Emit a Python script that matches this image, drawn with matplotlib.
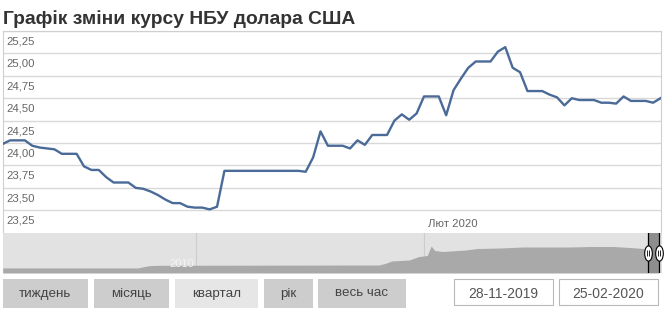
import numpy as np
import pandas as pd
import matplotlib
matplotlib.use("Agg")
import matplotlib.pyplot as plt
import matplotlib.dates as mdates
from matplotlib.patches import Rectangle
from matplotlib.path import Path
from matplotlib.transforms import Affine2D, offset_copy

plt.rcParams['font.family'] = ['Liberation Sans', 'DejaVu Sans']

# ---------------- data ----------------
title = "Графік зміни курсу НБУ долара США"
start_date = "2019-11-28"
end_date = "2020-02-25"
rates = [23.99, 24.03, 24.03, 24.03, 23.97, 23.95, 23.94, 23.93, 23.88, 23.88,
         23.88, 23.74, 23.70, 23.70, 23.62, 23.56, 23.56, 23.56, 23.50, 23.49,
         23.46, 23.42, 23.37, 23.33, 23.33, 23.29, 23.28, 23.28, 23.26, 23.29,
         23.69, 23.69, 23.69, 23.69, 23.69, 23.69, 23.69, 23.69, 23.69, 23.69,
         23.69, 23.68, 23.84, 24.13, 23.97, 23.97, 23.97, 23.94, 24.03, 23.98,
         24.09, 24.09, 24.09, 24.25, 24.32, 24.26, 24.33, 24.52, 24.52, 24.52,
         24.31, 24.59, 24.72, 24.84, 24.91, 24.91, 24.91, 25.02, 25.07, 24.84,
         24.79, 24.58, 24.58, 24.58, 24.54, 24.51, 24.42, 24.50, 24.48, 24.48,
         24.48, 24.45, 24.45, 24.44, 24.52, 24.47, 24.47, 24.47, 24.45, 24.50]
y_ticks = [23.25, 23.50, 23.75, 24.00, 24.25, 24.50, 24.75, 25.00, 25.25]
x_tick_dates = ["2020-02-01"]
x_tick_labels = ["Лют 2020"]

# navigator (full history overview)
nav_dates = ["2005-10-01", "2008-09-15", "2008-12-15", "2009-03-01", "2013-12-31",
             "2014-02-20", "2014-04-15", "2014-09-01", "2014-11-20", "2015-01-25",
             "2015-02-25", "2015-03-25", "2015-06-01", "2015-12-01", "2016-03-01",
             "2016-09-01", "2017-03-01", "2017-09-01", "2018-03-01", "2018-09-01",
             "2019-03-01", "2019-09-01", "2019-11-28", "2020-01-01", "2020-02-25"]
nav_values = [5.05, 5.05, 7.3, 7.7, 7.99, 9.5, 12.0, 13.0, 16.5, 17.5,
              27.0, 22.5, 21.5, 23.0, 24.5, 25.0, 26.0, 26.0, 26.0, 26.5,
              26.5, 25.0, 24.0, 23.7, 24.5]
nav_tick_years = ["2010-01-01"]
nav_tick_labels = ["2010"]
nav_grid_years = ["2010-01-01", "2015-01-01"]

buttons = ["тиждень", "місяць", "квартал", "рік", "весь час"]
active_button = "квартал"

dates = pd.date_range(start_date, end_date, freq="D")
nav_d = pd.to_datetime(nav_dates)

W, H = 665, 309
fig = plt.figure(figsize=(W / 100, H / 100), dpi=100)
fig.patch.set_facecolor("white")

def fx(px):
    return px / W

def fy(py):
    return 1 - py / H

# ---------------- title ----------------
fig.text(fx(3), fy(24.5), title, fontsize=13.9, fontweight="bold",
         color="#333333", ha="left", va="baseline")

# ---------------- main chart ----------------
L, R, T, B = 2.7, 660.5, 31.0, 232.7
ax = fig.add_axes([fx(L), fy(B), fx(R - L), (B - T) / H])
ax.set_facecolor("white")
ax.plot(dates, rates, color="#4a6a98", lw=1.7, solid_joinstyle="round", zorder=3)
ax.set_xlim(dates[0], dates[-1])
ax.set_ylim(23.0, 25.25)
ax.set_yticks(y_ticks)
ax.set_xticks([])
ax.tick_params(length=0, labelleft=False, labelbottom=False)
ax.grid(axis="y", color="#d9d9d9", lw=1.0)
for s in ["left", "top", "right"]:
    ax.spines[s].set_color("#cfcfcf")
    ax.spines[s].set_linewidth(0.8)
ax.spines["bottom"].set_visible(False)

ytr = ax.get_yaxis_transform()
for v in y_ticks:
    ax.annotate(f"{v:.2f}".replace(".", ","), xy=(0, v), xycoords=ytr,
                xytext=(4, -13.5), textcoords="offset pixels",
                ha="left", va="baseline", fontsize=8.2, color="#666666")

xtr = ax.get_xaxis_transform()
for d, lab in zip(x_tick_dates, x_tick_labels):
    ax.annotate(lab, xy=(mdates.date2num(pd.Timestamp(d)), 0), xycoords=xtr,
                xytext=(-5.5, 5.5), textcoords="offset pixels",
                ha="right", va="baseline", fontsize=8.2, color="#666666")

# ---------------- navigator ----------------
NL, NR, NT, NB = 2.7, 662, 232.5, 273.0
nav = fig.add_axes([fx(NL), fy(NB), fx(NR - NL), (NB - NT) / H])
nav.set_facecolor("#e2e2e2")
for d in nav_grid_years:
    nav.axvline(pd.Timestamp(d), color="#cdcdcd", lw=0.8, zorder=1)
nav.fill_between(nav_d, nav_values, 0, color="#a9a9a9", lw=0, zorder=2)
nav.set_xlim(pd.Timestamp("2005-10-01"), pd.Timestamp("2020-03-20"))
nav.set_ylim(0, 40.5)
nav.set_xticks([])
nav.set_yticks([])
for s in nav.spines.values():
    s.set_visible(False)
ntr = nav.get_xaxis_transform()
for d, lab in zip(nav_tick_years, nav_tick_labels):
    nav.annotate(lab, xy=(mdates.date2num(pd.Timestamp(d)), 0), xycoords=ntr,
                 xytext=(-2, 6), textcoords="offset pixels",
                 ha="right", va="baseline", fontsize=8, color="#f4f4f4", zorder=4)

nav.axvspan(dates[0], dates[-1], color="#8e8e8e", zorder=3, lw=0)
for d in (dates[0], dates[-1]):
    nav.axvline(d, color="black", lw=0.9, zorder=4)
ell = Path.unit_circle().transformed(Affine2D().scale(0.5, 1.0))
for d in (dates[0], dates[-1]):
    dn = mdates.date2num(d)
    nav.plot([dn], [0.5], transform=ntr, marker=ell, ms=11, mfc="white",
             mec="black", mew=0.8, zorder=5, clip_on=False)
    for dx in (-1.0, 1.0):
        tr = offset_copy(ntr, fig=fig, x=dx, y=0, units="dots")
        nav.plot([dn], [0.5], transform=tr, marker="|", ms=4, mec="black",
                 mew=0.6, zorder=6, clip_on=False)

# ---------------- buttons ----------------
btn_x = [(2.7, 88), (94, 169), (175, 258), (264, 313), (318, 406)]
by0, by1 = 278.7, 308.0
for lab, (x0, x1) in zip(buttons, btn_x):
    col = "#e6e6e6" if lab == active_button else "#cdcdcd"
    fig.patches.append(Rectangle((fx(x0), fy(by1)), fx(x1 - x0), (by1 - by0) / H,
                                 transform=fig.transFigure, facecolor=col,
                                 edgecolor="none"))
    fig.text(fx((x0 + x1) / 2), fy(296.5), lab, fontsize=9.6, color="#444444",
             ha="center", va="baseline")

box_x = [(454, 553), (559, 658)]
bx0, bx1 = 278.7, 305.0
box_labels = [dates[0].strftime("%d-%m-%Y"), dates[-1].strftime("%d-%m-%Y")]
for lab, (x0, x1) in zip(box_labels, box_x):
    fig.patches.append(Rectangle((fx(x0), fy(bx1)), fx(x1 - x0), (bx1 - bx0) / H,
                                 transform=fig.transFigure, facecolor="white",
                                 edgecolor="#b8b8b8", lw=0.8))
    fig.text(fx((x0 + x1) / 2), fy(298), lab, fontsize=10, color="#555555",
             ha="center", va="baseline")

fig.savefig("out.png", dpi=100, facecolor="white")
